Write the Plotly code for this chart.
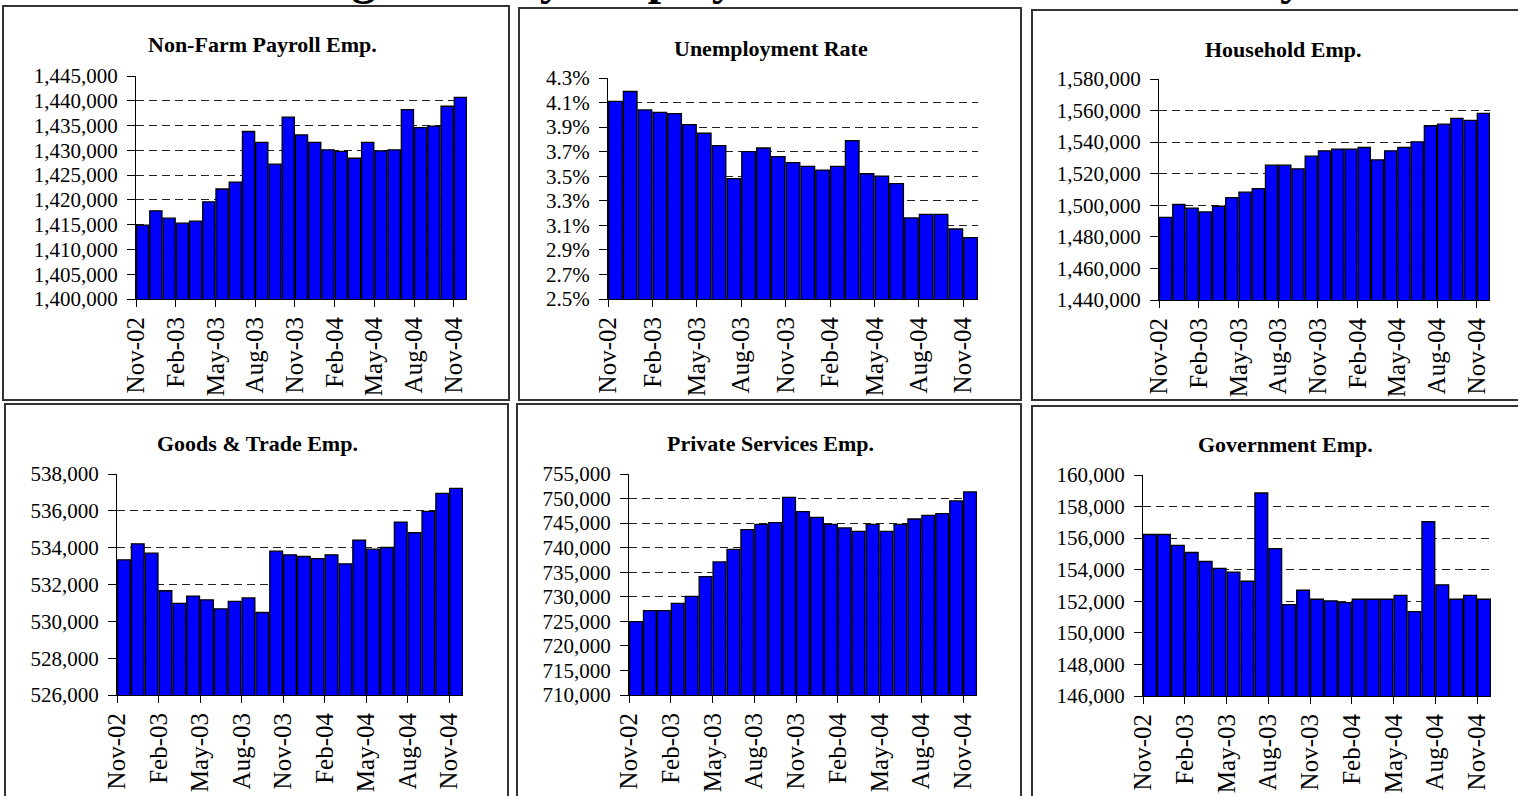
import plotly.graph_objects as go

W, H = 1518, 796

months = ["Nov-02", "Dec-02", "Jan-03", "Feb-03", "Mar-03", "Apr-03", "May-03",
          "Jun-03", "Jul-03", "Aug-03", "Sep-03", "Oct-03", "Nov-03", "Dec-03",
          "Jan-04", "Feb-04", "Mar-04", "Apr-04", "May-04", "Jun-04", "Jul-04",
          "Aug-04", "Sep-04", "Oct-04", "Nov-04"]

nonfarm = [1414900, 1417800, 1416300, 1415300, 1415700, 1419600, 1422200, 1423600,
           1433800, 1431600, 1427200, 1436700, 1433100, 1431600, 1430100, 1429800,
           1428400, 1431600, 1429900, 1430100, 1438200, 1434600, 1434900, 1438900,
           1440700]
unemp = [4.11, 4.19, 4.04, 4.02, 4.01, 3.92, 3.85, 3.75, 3.48, 3.70, 3.73, 3.66,
         3.61, 3.58, 3.55, 3.58, 3.79, 3.52, 3.50, 3.44, 3.16, 3.19, 3.19, 3.07,
         3.00]
household = [1492400, 1500500, 1498200, 1495800, 1499400, 1504900, 1508300,
             1510600, 1525400, 1525400, 1523100, 1531100, 1534500, 1535600,
             1535600, 1536600, 1528800, 1534500, 1536600, 1540200, 1550400,
             1551400, 1555000, 1553800, 1558200]
goods_trade = [533340, 534210, 533700, 531660, 530970, 531370, 531170, 530680,
               531080, 531270, 530480, 533810, 533610, 533520, 533410, 533610,
               533120, 534410, 533920, 534010, 535390, 534810, 535970, 536950,
               537220]
private_services = [724940, 727180, 727180, 728670, 730100, 734100, 737090,
                    739670, 743670, 744760, 745100, 750260, 747340, 746180,
                    744760, 744010, 743330, 744760, 743330, 744760, 745840,
                    746590, 746930, 749510, 751340]
government = [156230, 156230, 155540, 155090, 154520, 154080, 153850, 153270,
              158860, 155330, 151790, 152700, 152130, 152030, 151920, 152130,
              152130, 152130, 152370, 151350, 157040, 153040, 152130, 152370,
              152130]

titles = ["Non-Farm Payroll Emp.", "Unemployment Rate", "Household Emp.",
          "Goods & Trade Emp.", "Private Services Emp.", "Government Emp."]
series = [nonfarm, unemp, household, goods_trade, private_services, government]
y_ranges = [(1400000, 1445000), (2.5, 4.3), (1440000, 1580000),
            (526000, 538000), (710000, 755000), (146000, 160000)]
y_dticks = [5000, 0.2, 20000, 2000, 5000, 2000]

main_title = "Strong Monthly Employment Gains in the Economy"

# layout geometry in pixels: (x0, x1, ytop, ybottom)
domains = [(136, 467, 76, 299), (608, 978, 78, 299), (1159, 1490, 79, 300),
           (117, 463, 474, 695), (629, 977, 474, 695), (1143, 1491, 475, 696)]
title_pos = [(262, 44), (771, 48), (1283, 49), (257, 443), (771, 443), (1285, 445)]
frames = [(3, 509, 6, 400), (519, 1021, 8, 400), (1032, 1521, 10, 400),
          (5, 508, 404, 800), (517, 1021, 404, 800), (1032, 1521, 406, 800)]

SERIF = "Liberation Serif, Times New Roman, serif"

fig = go.Figure()
n = len(months)
xs = [i + 0.5 for i in range(n)]
tickvals = list(range(0, n, 3))
ticktext = months[::3]

for k in range(6):
    ax = "" if k == 0 else str(k + 1)
    fig.add_trace(go.Bar(
        x=xs, y=series[k], xaxis="x" + ax, yaxis="y" + ax,
        width=0.92,
        marker=dict(color="#0000FF", line=dict(color="black", width=1.3)),
        hoverinfo="skip", showlegend=False))
    x0, x1, yt, yb = domains[k]
    xa = dict(domain=[x0 / W, x1 / W], range=[0, n], anchor="y" + ax,
              tickmode="array", tickvals=tickvals, ticktext=ticktext,
              tickangle=-90, ticks="outside", ticklen=7, tickcolor="black",
              showline=True, linecolor="black", linewidth=1, showgrid=False,
              zeroline=False, fixedrange=True, automargin=False,
              tickfont=dict(family=SERIF, size=25, color="black"))
    ya = dict(domain=[1 - yb / H, 1 - yt / H], range=list(y_ranges[k]),
              anchor="x" + ax, dtick=y_dticks[k], tick0=y_ranges[k][0],
              ticks="outside", ticklen=8, tickcolor="black",
              ticklabelstandoff=5,
              showline=True, linecolor="black", linewidth=1,
              showgrid=True, gridcolor="#222222", griddash="8px,5px", gridwidth=1.2,
              zeroline=False, fixedrange=True, automargin=False,
              tickfont=dict(family=SERIF, size=21, color="black"))
    if k == 1:
        ya.update(tickformat=".1f", ticksuffix="%")
    else:
        ya.update(tickformat=",d")
    fig.layout["xaxis" + ax] = xa
    fig.layout["yaxis" + ax] = ya

annotations = []
for k in range(6):
    tx, ty = title_pos[k]
    annotations.append(dict(text="<b>" + titles[k] + "</b>", x=tx / W, y=1 - ty / H,
                            xref="paper", yref="paper", xanchor="center",
                            yanchor="middle", showarrow=False,
                            font=dict(family=SERIF, size=22, color="black")))
annotations.append(dict(text="<b>" + main_title + "</b>", x=771 / W, y=1 - 5 / H,
                        xref="paper", yref="paper", xanchor="center",
                        yanchor="bottom", showarrow=False, borderpad=0,
                        font=dict(family=SERIF, size=48, color="black")))

shapes = []
for (fx0, fx1, fy0, fy1) in frames:
    shapes.append(dict(type="rect", xref="paper", yref="paper",
                       x0=fx0 / W, x1=fx1 / W, y0=1 - fy1 / H, y1=1 - fy0 / H,
                       line=dict(color="#333333", width=2), fillcolor="rgba(0,0,0,0)",
                       layer="below"))

fig.update_layout(width=W, height=H,
                  margin=dict(l=0, r=0, t=0, b=0, pad=0, autoexpand=False),
                  paper_bgcolor="white", plot_bgcolor="white",
                  bargap=0.08, annotations=annotations, shapes=shapes,
                  hovermode=False)

fig.write_html("out.html", config={"displayModeBar": False, "responsive": False},
               post_script="document.body.style.margin='0px';"
                           "document.body.style.overflow='hidden';")
